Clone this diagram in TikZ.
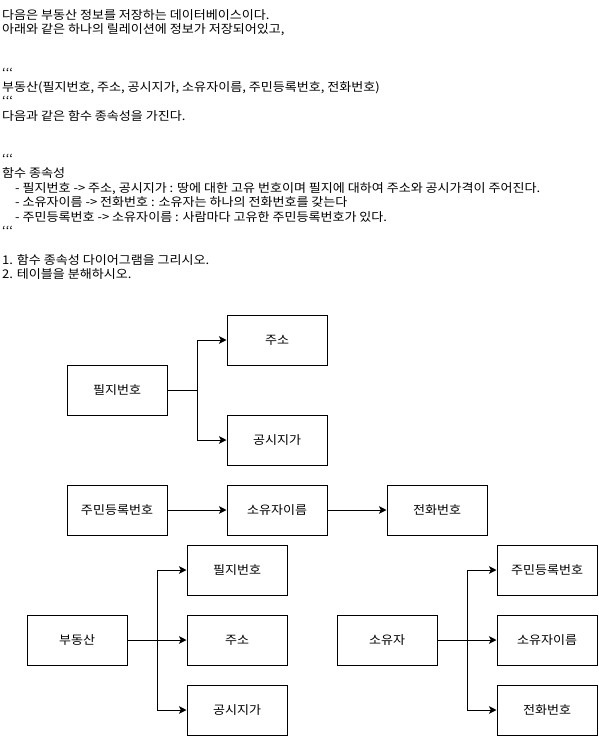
\documentclass[tikz,border=0pt]{standalone}
\usepackage{fontspec}
\setmainfont{Noto Sans CJK KR}[FakeStretch=1.087]
\usetikzlibrary{arrows.meta}
\newcommand\bticks{\symbol{96}\symbol{96}\symbol{96}}
\begin{document}
\begin{tikzpicture}[x=1pt,y=-1pt,
  txt/.style={anchor=base west,inner sep=0pt,font=\fontsize{12pt}{14.4pt}\selectfont},
  box/.style={draw=black,line width=1pt,fill=white,minimum width=100pt,minimum height=50pt,
    inner sep=0pt,font=\fontsize{12pt}{14.4pt}\selectfont},
  arr/.style={draw=black,line width=1pt,-{Stealth[length=7.5pt,width=7.5pt,inset=1.8pt]}}]
\useasboundingbox[fill=white] (0,0) rectangle (598,736);

% problem statement
\node[txt] (l1)  at (2,19.5)  {다음은 부동산 정보를 저장하는 데이터베이스이다.};
\node[txt] (l2)  at (2,33.9)  {아래와 같은 하나의 릴레이션에 정보가 저장되어있고,};
\node[txt] (l3)  at (2,77.1)  {\bticks};
\node[txt] (l4)  at (2,91.5)  {부동산(필지번호, 주소, 공시지가, 소유자이름, 주민등록번호, 전화번호)};
\node[txt] (l5)  at (2,105.9) {\bticks};
\node[txt] (l6)  at (2,120.3) {다음과 같은 함수 종속성을 가진다.};
\node[txt] (l7)  at (2,163.5) {\bticks};
\node[txt] (l8)  at (2,177.9) {함수 종속성};
\node[txt] (l9)  at (15,192.3) {- 필지번호 -> 주소, 공시지가 : 땅에 대한 고유 번호이며 필지에 대하여 주소와 공시가격이 주어진다.};
\node[txt] (l10) at (15,206.7) {- 소유자이름 -> 전화번호 : 소유자는 하나의 전화번호를 갖는다};
\node[txt] (l11) at (15,221.1) {- 주민등록번호 -> 소유자이름 : 사람마다 고유한 주민등록번호가 있다.};
\node[txt] (l12) at (2,235.5) {\bticks};
\node[txt] (l13) at (2,264.3) {1. 함수 종속성 다이어그램을 그리시오.};
\node[txt] (l14) at (2,278.7) {2. 테이블을 분해하시오.};

% functional dependency: 필지번호
\node[box] (fpj)   at (117,390) {필지번호};
\node[box] (faddr) at (277,340) {주소};
\node[box] (fprc)  at (277,440) {공시지가};
\draw[arr] (fpj.east) -- ++(30,0) |- (faddr.west);
\draw[arr] (fpj.east) -- ++(30,0) |- (fprc.west);

% functional dependency chain
\node[box] (fssn)  at (117,510) {주민등록번호};
\node[box] (fname) at (277,510) {소유자이름};
\node[box] (ftel)  at (437,510) {전화번호};
\draw[arr] (fssn.east) -- (fname.west);
\draw[arr] (fname.east) -- (ftel.west);

% decomposed table 부동산
\node[box] (re)     at (77,640)  {부동산};
\node[box] (repj)   at (237,570) {필지번호};
\node[box] (readdr) at (237,640) {주소};
\node[box] (reprc)  at (237,710) {공시지가};
\draw[arr] (re.east) -- ++(30,0) |- (repj.west);
\draw[arr] (re.east) -- (readdr.west);
\draw[arr] (re.east) -- ++(30,0) |- (reprc.west);

% decomposed table 소유자
\node[box] (ow)     at (387,640) {소유자};
\node[box] (owssn)  at (547,570) {주민등록번호};
\node[box] (owname) at (547,640) {소유자이름};
\node[box] (owtel)  at (547,710) {전화번호};
\draw[arr] (ow.east) -- ++(30,0) |- (owssn.west);
\draw[arr] (ow.east) -- (owname.west);
\draw[arr] (ow.east) -- ++(30,0) |- (owtel.west);
\end{tikzpicture}
\end{document}
